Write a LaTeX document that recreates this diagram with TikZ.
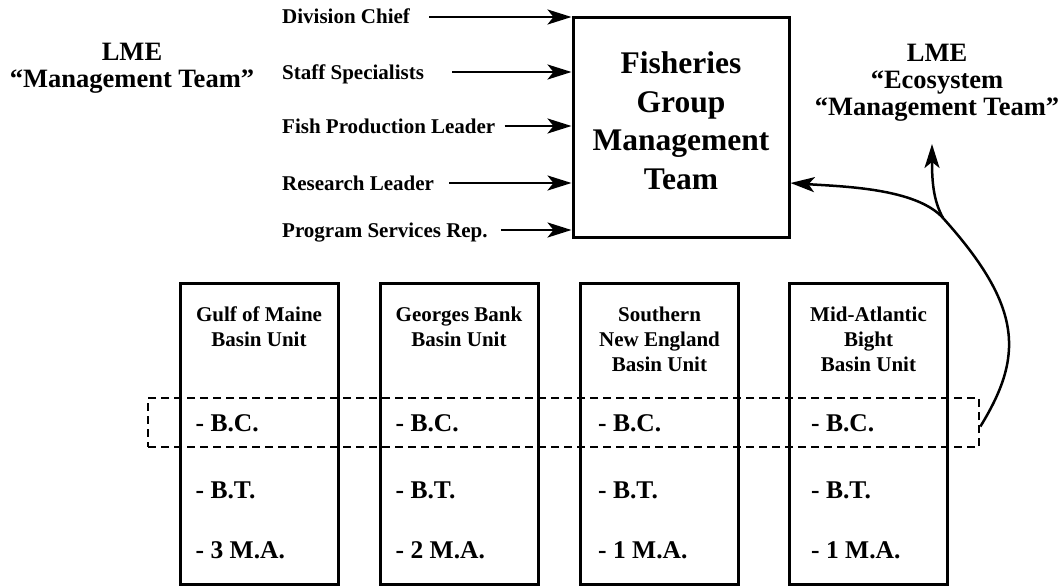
\documentclass[tikz,border=0pt]{standalone}
\usepackage{fontspec}
\setmainfont{Liberation Serif}
\usetikzlibrary{arrows.meta}
\begin{document}
\begin{tikzpicture}[x={(1pt,0)}, y={(0,-1pt)},
  every node/.style={font=\bfseries},
  tip/.style={-{Stealth[length=24pt,width=15pt,inset=6pt]}},
  feed/.style={line width=2.7pt, tip},
  loop/.style={line width=2.5pt, tip},
  member/.style={inner sep=0pt, anchor=west, text height=14pt, text depth=0pt,
    font=\bfseries\fontsize{21}{25}\selectfont},
  teamlabel/.style={inner sep=0pt, align=center,
    font=\bfseries\fontsize{26.5}{27}\selectfont},
  bigbox/.style={draw, line width=3pt, minimum width=216pt, minimum height=219pt, inner sep=0pt},
  bigtitle/.style={inner sep=0pt, align=center, font=\bfseries\fontsize{31.5}{38.5}\selectfont},
  unitbox/.style={draw, line width=3pt, minimum width=158pt, minimum height=301pt, inner sep=0pt},
  unithead/.style={inner sep=0pt, align=center, anchor=north,
    font=\bfseries\fontsize{21}{25}\selectfont},
  item/.style={inner sep=0pt, anchor=west, text height=17pt, text depth=0pt,
    font=\bfseries\fontsize{25.5}{27}\selectfont},
  rowbox/.style={draw, line width=2.7pt, dash pattern=on 8pt off 5pt,
    minimum width=831pt, minimum height=49pt, inner sep=0pt}
]
\useasboundingbox (0,0) rectangle (1064,586);

% side headings
\node[teamlabel] (lmeleft) at (132,68) {LME\\``Management Team''};
\node[teamlabel] (lmeright) at (937,83) {LME\\``Ecosystem\\``Management Team''};

% central management team
\node[bigbox] (big) at (681,127.5) {};
\node[bigtitle] (bigtext) at ([yshift=7pt]big.center) {Fisheries\\Group\\Management\\Team};

% members feeding the team
\node[member] (dc) at (282,17) {Division Chief};
\node[member] (ss) at (282,72) {Staff Specialists};
\node[member] (fp) at (282,126) {Fish Production Leader};
\node[member] (rl) at (282,183) {Research Leader};
\node[member] (ps) at (282,230) {Program Services Rep.};

\draw[feed] ([xshift=19pt]dc.east) -- (dc.east -| big.west);
\draw[feed] ([xshift=28pt]ss.east) -- (ss.east -| big.west);
\draw[feed] ([xshift=9pt]fp.east) -- (fp.east -| big.west);
\draw[feed] ([xshift=15pt]rl.east) -- (rl.east -| big.west);
\draw[feed] ([xshift=13pt]ps.east) -- (ps.east -| big.west);

% basin units
\node[unitbox] (u1) at (259,433.5) {};
\node[unitbox] (u2) at (459,433.5) {};
\node[unitbox] (u3) at (659.5,433.5) {};
\node[unitbox] (u4) at (868.5,433.5) {};

\node[unithead] (h1) at ([yshift=-25pt]u1.north) {Gulf of Maine\\Basin Unit};
\node[unithead] (h2) at ([yshift=-25pt]u2.north) {Georges Bank\\Basin Unit};
\node[unithead] (h3) at ([yshift=-25pt]u3.north) {Southern\\New England\\Basin Unit};
\node[unithead] (h4) at ([yshift=-25pt]u4.north) {Mid-Atlantic\\Bight\\Basin Unit};

\foreach \u/\dx/\ma in {u1/17/3, u2/17/2, u3/19/1, u4/23/1} {
  \node[item] (\u bc) at ([xshift=\dx pt]\u.west |- 0,423) {- B.C.};
  \node[item] (\u bt) at ([xshift=\dx pt]\u.west |- 0,490) {- B.T.};
  \node[item] (\u ma) at ([xshift=\dx pt]\u.west |- 0,550) {- \ma\ M.A.};
}

% basin chiefs grouped together
\node[rowbox] (bcrow) at (563.5,422.5) {};

% feedback from the basin chiefs
\coordinate (fork) at (943,218);
\draw[line width=2.5pt] ([yshift=-4pt]bcrow.east) .. controls (1023,357) and (1024,308) .. (fork);
\draw[loop] (fork) .. controls (916,188) and (842,186.5) .. ([yshift=-55.5pt]big.east);
\draw[loop] (fork) .. controls (933,200) and (932,180) .. (932,144);
\end{tikzpicture}
\end{document}
